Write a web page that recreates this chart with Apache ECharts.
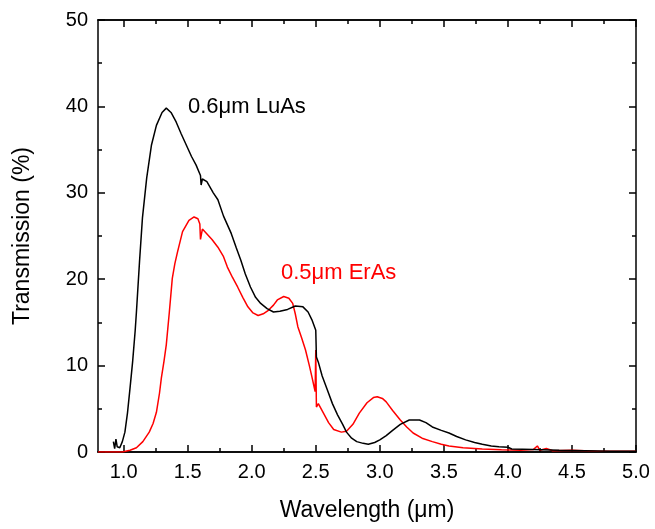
<!DOCTYPE html>
<html>
  <head>
    <meta charset="UTF-8">
    <title>Transmission</title>
    <script src="https://cdn.jsdelivr.net/npm/echarts@6/dist/echarts.min.js"></script>
  </head>
  <body style="margin:0">
    <div id="box" style="width:655px;height:529px"></div>
    <script>
        // 0.6um LuAs curve
        var luasWl = [0.92, 0.93, 0.94, 0.95, 0.97, 0.99, 1.01, 1.03, 1.05, 1.07, 1.09, 1.10, 1.124, 1.147, 1.18, 1.217,
            1.256, 1.30, 1.333, 1.37, 1.41, 1.45, 1.49, 1.53, 1.566, 1.60, 1.605, 1.615, 1.65, 1.70, 1.736, 1.78,
            1.84, 1.88, 1.915, 1.95, 1.99, 2.03, 2.07, 2.12, 2.17, 2.22, 2.28, 2.34, 2.40, 2.44, 2.47, 2.50,
            2.505, 2.52, 2.55, 2.59, 2.63, 2.67, 2.71, 2.74, 2.78, 2.82, 2.87, 2.91, 2.96, 3.00, 3.05, 3.10,
            3.16, 3.23, 3.31, 3.36, 3.41, 3.48, 3.54, 3.60, 3.67, 3.74, 3.80, 3.87, 3.93, 4.00, 4.03, 4.20,
            4.40, 4.60, 4.80, 5.00];
        var luasT = [1.2, 0.4, 1.5, 0.6, 0.5, 1.2, 2.3, 4.5, 7.4, 10.4, 14.0, 16.2, 22.0, 27.1, 31.7, 35.5,
            37.8, 39.3, 39.8, 39.3, 38.2, 36.8, 35.5, 34.2, 33.2, 32.0, 30.9, 31.6, 31.3, 30.0, 29.2, 27.3,
            25.3, 23.6, 22.2, 20.6, 19.1, 17.9, 17.2, 16.6, 16.2, 16.3, 16.5, 16.9, 16.8, 16.2, 15.3, 14.1,
            11.0, 10.4, 8.8, 7.2, 5.6, 4.3, 3.2, 2.3, 1.6, 1.2, 1.0, 0.9, 1.1, 1.4, 1.9, 2.5,
            3.2, 3.7, 3.7, 3.4, 2.9, 2.5, 2.2, 1.8, 1.4, 1.1, 0.9, 0.7, 0.6, 0.55, 0.35, 0.3,
            0.2, 0.15, 0.1, 0.1];

        // 0.5um ErAs curve
        var erasWl = [0.80, 0.99, 1.05, 1.10, 1.15, 1.20, 1.23, 1.256, 1.28, 1.295, 1.315, 1.333, 1.357, 1.38, 1.40, 1.42,
            1.46, 1.51, 1.55, 1.58, 1.595, 1.60, 1.615, 1.64, 1.69, 1.736, 1.78, 1.81, 1.85, 1.89, 1.93, 1.97,
            2.01, 2.05, 2.09, 2.13, 2.17, 2.20, 2.25, 2.29, 2.32, 2.34, 2.36, 2.39, 2.42, 2.45, 2.47, 2.495,
            2.50, 2.505, 2.52, 2.56, 2.60, 2.64, 2.70, 2.74, 2.79, 2.84, 2.90, 2.95, 2.98, 3.02, 3.05, 3.10,
            3.16, 3.21, 3.26, 3.33, 3.41, 3.48, 3.54, 3.65, 3.80, 3.95, 4.10, 4.20, 4.23, 4.25, 4.30, 4.35,
            4.50, 4.70, 5.00];
        var erasT = [0, 0, 0.2, 0.5, 1.2, 2.3, 3.3, 4.6, 6.8, 8.6, 10.5, 12.4, 16.2, 20.1, 21.8, 23.1,
            25.5, 26.8, 27.2, 27.0, 26.4, 24.6, 25.8, 25.4, 24.6, 23.7, 22.6, 21.4, 20.2, 19.1, 17.9, 16.8,
            16.1, 15.8, 16.0, 16.4, 17.0, 17.6, 18.0, 17.8, 17.2, 16.0, 14.5, 13.2, 11.8, 10.0, 8.7, 7.0,
            11.8, 5.2, 5.6, 4.5, 3.4, 2.6, 2.3, 2.4, 3.2, 4.5, 5.7, 6.3, 6.4, 6.2, 5.8, 4.8,
            3.7, 2.9, 2.2, 1.6, 1.2, 0.9, 0.7, 0.5, 0.35, 0.25, 0.2, 0.3, 0.7, 0.2, 0.4, 0.15,
            0.2, 0.1, 0.1];

        var xMajor = [1.0, 1.5, 2.0, 2.5, 3.0, 3.5, 4.0, 4.5, 5.0];
        var xMinor = [1.25, 1.75, 2.25, 2.75, 3.25, 3.75, 4.25, 4.75];

        function pairs(xs, ys) {
            return xs.map(function (x, i) { return [x, ys[i]]; });
        }

        var font = 'Liberation Sans, Arial, sans-serif';
        var black = {color: '#000', width: 1.5};

        function xAxisDef(pos, ticks, len, labels) {
            return {
                type: 'value', position: pos, min: 0.8, max: 5.0,
                axisLine: {show: true, onZero: false, lineStyle: black},
                axisTick: {show: true, inside: true, length: len, customValues: ticks, lineStyle: black},
                axisLabel: {show: labels, customValues: ticks, margin: 10, fontSize: 20, color: '#000', fontFamily: font,
                    formatter: function (v) { return v.toFixed(1); }},
                splitLine: {show: false}
            };
        }

        var xAxes = [
            xAxisDef('bottom', xMajor, 7, true),
            xAxisDef('bottom', xMinor, 4, false),
            xAxisDef('top', xMajor, 7, false),
            xAxisDef('top', xMinor, 4, false)
        ];
        xAxes[0].name = 'Wavelength (μm)';
        xAxes[0].nameLocation = 'middle';
        xAxes[0].nameGap = 47;
        xAxes[0].nameTextStyle = {fontSize: 23, color: '#000', fontFamily: font};

        function yAxisDef(pos, labels) {
            return {
                type: 'value', position: pos, min: 0, max: 50, interval: 10,
                axisLine: {show: true, lineStyle: black},
                axisTick: {show: true, inside: true, length: 7, lineStyle: black},
                minorTick: {show: true, splitNumber: 2, length: 4, lineStyle: black},
                axisLabel: {show: labels, margin: 10, fontSize: 20, color: '#000', fontFamily: font},
                splitLine: {show: false}
            };
        }
        var yAxes = [yAxisDef('left', true), yAxisDef('right', false)];
        yAxes[0].name = 'Transmission (%)';
        yAxes[0].nameLocation = 'middle';
        yAxes[0].nameGap = 64;
        yAxes[0].nameTextStyle = {fontSize: 23, color: '#000', fontFamily: font};

        var myChart = echarts.init(document.getElementById('box'));
        myChart.setOption({
            animation: false,
            backgroundColor: '#fff',
            grid: {left: 98, right: 19, top: 20, bottom: 77},
            xAxis: xAxes,
            yAxis: yAxes,
            series: [{
                name: '0.6μm LuAs',
                type: 'line',
                showSymbol: false,
                data: pairs(luasWl, luasT),
                lineStyle: {color: '#000', width: 1.5},
                itemStyle: {color: '#000'},
                z: 3
            }, {
                name: '0.5μm ErAs',
                type: 'line',
                showSymbol: false,
                data: pairs(erasWl, erasT),
                lineStyle: {color: '#ff0000', width: 1.5},
                itemStyle: {color: '#ff0000'},
                z: 2
            }],
            graphic: [{
                type: 'text', left: 188, top: 96,
                style: {text: '0.6μm LuAs', fontSize: 22, fill: '#000', fontFamily: font}
            }, {
                type: 'text', left: 281, top: 262,
                style: {text: '0.5μm ErAs', fontSize: 22, fill: '#ff0000', fontFamily: font}
            }]
        });
    </script>
  </body>
</html>
